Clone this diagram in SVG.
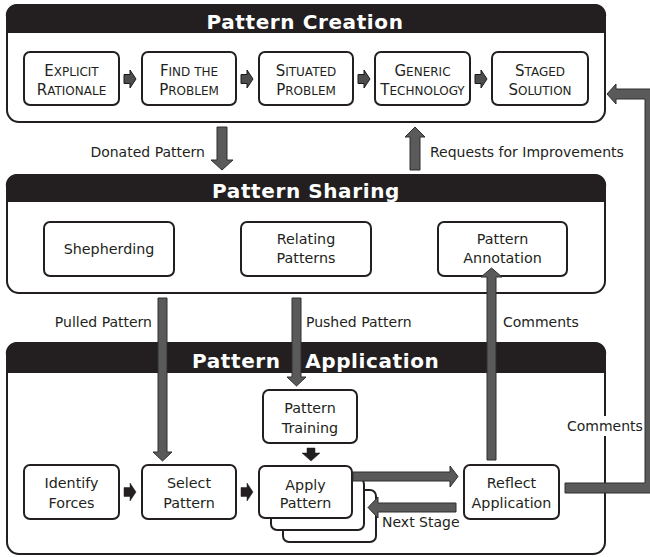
<svg xmlns="http://www.w3.org/2000/svg" width="650" height="557" viewBox="0 0 650 557">
<defs>
<style>
.panel{fill:#fff;stroke:#231f20;stroke-width:2}
.hdr{fill:#231f20}
.box{fill:#fff;stroke:#231f20;stroke-width:2}
.title{font-family:"DejaVu Sans",Verdana,sans-serif;font-weight:bold;font-size:20px;fill:#fff;letter-spacing:0.6px;text-anchor:middle}
.t{font-family:"DejaVu Sans",Verdana,sans-serif;font-size:14.3px;fill:#231f20;text-anchor:middle}
.sc{font-family:"DejaVu Sans",Verdana,sans-serif;font-size:12px;fill:#231f20;text-anchor:middle}
.c{font-size:15px}
.lbl{font-family:"DejaVu Sans",Verdana,sans-serif;font-size:14px;fill:#231f20}
.end{text-anchor:end}
.big{fill:#5a5a5a;stroke:#2e2e2e;stroke-width:1}
.sm{fill:#4d4d4d;stroke:#1a1a1a;stroke-width:1}
.blk{fill:#231f20;stroke:#231f20;stroke-width:0.5}
</style>
<path id="sr" d="M0,-4.5 H6 V-9 L12,0 L6,9 V4.5 H0 Z"/>
</defs>

<g id="pattern-creation">
<rect class="panel" x="7" y="5" width="598" height="117" rx="12"/>
<path class="hdr" d="M6,33 V17 A11,11 0 0 1 17,4 H595 A11,11 0 0 1 606,17 V33 Z"/>
<text class="title" x="305" y="29">Pattern Creation</text>
</g>
<g id="pattern-sharing">
<rect class="panel" x="7" y="175" width="598" height="118" rx="12"/>
<path class="hdr" d="M6,202 V187 A11,11 0 0 1 17,174 H595 A11,11 0 0 1 606,187 V202 Z"/>
<text class="title" x="306" y="198">Pattern Sharing</text>
</g>
<g id="pattern-application">
<rect class="panel" x="7" y="343" width="598" height="211" rx="12"/>
<path class="hdr" d="M6,373 V355 A11,11 0 0 1 17,342 H595 A11,11 0 0 1 606,355 V373 Z"/>
<text class="title" x="192" y="368" style="text-anchor:start" word-spacing="17">Pattern Application</text>
</g>

<g id="explicit-rationale">
<rect class="box" x="24" y="52" width="95" height="53" rx="6"/>
<text class="sc" x="71.5" y="76"><tspan class="c">E</tspan>XPLICIT</text>
<text class="sc" x="71.5" y="95"><tspan class="c">R</tspan>ATIONALE</text>
</g>
<g id="find-the-problem">
<rect class="box" x="142" y="52" width="94" height="53" rx="6"/>
<text class="sc" x="189" y="76"><tspan class="c">F</tspan>IND THE</text>
<text class="sc" x="189" y="95"><tspan class="c">P</tspan>ROBLEM</text>
</g>
<g id="situated-problem">
<rect class="box" x="259" y="52" width="94" height="53" rx="6"/>
<text class="sc" x="306" y="76"><tspan class="c">S</tspan>ITUATED</text>
<text class="sc" x="306" y="95"><tspan class="c">P</tspan>ROBLEM</text>
</g>
<g id="generic-technology">
<rect class="box" x="375" y="52" width="95" height="53" rx="6"/>
<text class="sc" x="422.5" y="76"><tspan class="c">G</tspan>ENERIC</text>
<text class="sc" x="422.5" y="95"><tspan class="c">T</tspan>ECHNOLOGY</text>
</g>
<g id="staged-solution">
<rect class="box" x="492" y="52" width="96" height="53" rx="6"/>
<text class="sc" x="540" y="76"><tspan class="c">S</tspan>TAGED</text>
<text class="sc" x="540" y="95"><tspan class="c">S</tspan>OLUTION</text>
</g>

<g id="shepherding">
<rect class="box" x="44" y="222" width="130" height="54" rx="6"/>
<text class="t" x="109" y="254">Shepherding</text>
</g>
<g id="relating-patterns">
<rect class="box" x="241" y="222" width="130" height="54" rx="6"/>
<text class="t" x="306" y="244">Relating</text>
<text class="t" x="306" y="263">Patterns</text>
</g>
<g id="pattern-annotation">
<rect class="box" x="438" y="222" width="129" height="54" rx="6"/>
<text class="t" x="502.5" y="244">Pattern</text>
<text class="t" x="502.5" y="263">Annotation</text>
</g>

<g id="identify-forces">
<rect class="box" x="24" y="465" width="95" height="54" rx="6"/>
<text class="t" x="71.5" y="488">Identify</text>
<text class="t" x="71.5" y="508">Forces</text>
</g>
<g id="select-pattern">
<rect class="box" x="142" y="465" width="94" height="54" rx="6"/>
<text class="t" x="189" y="488">Select</text>
<text class="t" x="189" y="508">Pattern</text>
</g>
<g id="pattern-training">
<rect class="box" x="263" y="390" width="94" height="53" rx="6"/>
<text class="t" x="310" y="413">Pattern</text>
<text class="t" x="310" y="433">Training</text>
</g>
<g id="apply-pattern">
<rect class="box" x="283" y="490" width="93" height="52" rx="6"/>
<rect class="box" x="271" y="478" width="93" height="52" rx="6"/>
<rect class="box" x="259" y="466" width="93" height="52" rx="6"/>
<text class="t" x="305.5" y="490">Apply</text>
<text class="t" x="305.5" y="508">Pattern</text>
</g>
<g id="reflect-application">
<rect class="box" x="464" y="465" width="95" height="54" rx="6"/>
<text class="t" x="511.5" y="488">Reflect</text>
<text class="t" x="511.5" y="508">Application</text>
</g>

<g id="connectors">
<use href="#sr" class="sm" x="124" y="79"/>
<use href="#sr" class="sm" x="241" y="79"/>
<use href="#sr" class="sm" x="358" y="79"/>
<use href="#sr" class="sm" x="475" y="79"/>
<use href="#sr" class="blk" x="124" y="492"/>
<use href="#sr" class="blk" x="241" y="492"/>
<polygon class="blk" points="307,448 315,448 315,453 320,453 311,461 302,453 307,453"/>
<polygon class="big" points="217,127 227,127 227,160 233,160 222,170 211,160 217,160"/>
<polygon class="big" points="410,170 420,170 420,137 425,137 415,127 405,137 410,137"/>
<polygon class="big" points="158,298 167,298 167,452 172,452 162.5,461 153,452 158,452"/>
<polygon class="big" points="292,298 301,298 301,377 306,377 296.5,386 287,377 292,377"/>
<polygon class="big" points="353,472 450,472 450,466 458,476.5 450,487 450,481 353,481"/>
<polygon class="big" points="456,503 456,512 378,512 378,518 368,507.5 378,497 378,503"/>
<polygon class="big" points="487,460 496,460 496,277 502,277 491.5,268 481,277 487,277"/>
<polygon class="big" points="565,483 645,483 645,99 616,99 616,104 607,94 616,84 616,89 655,89 655,493 565,493"/>
</g>

<g id="labels">
<text class="lbl end" x="205" y="157">Donated Pattern</text>
<text class="lbl" x="430" y="157">Requests for Improvements</text>
<text class="lbl end" x="152" y="327">Pulled Pattern</text>
<text class="lbl" x="306" y="327">Pushed Pattern</text>
<text class="lbl" x="503" y="327">Comments</text>
<rect x="566" y="416" width="77" height="20" fill="#fff"/>
<text class="lbl" x="567" y="431">Comments</text>
<text class="lbl" x="382" y="527">Next Stage</text>
</g>
</svg>
